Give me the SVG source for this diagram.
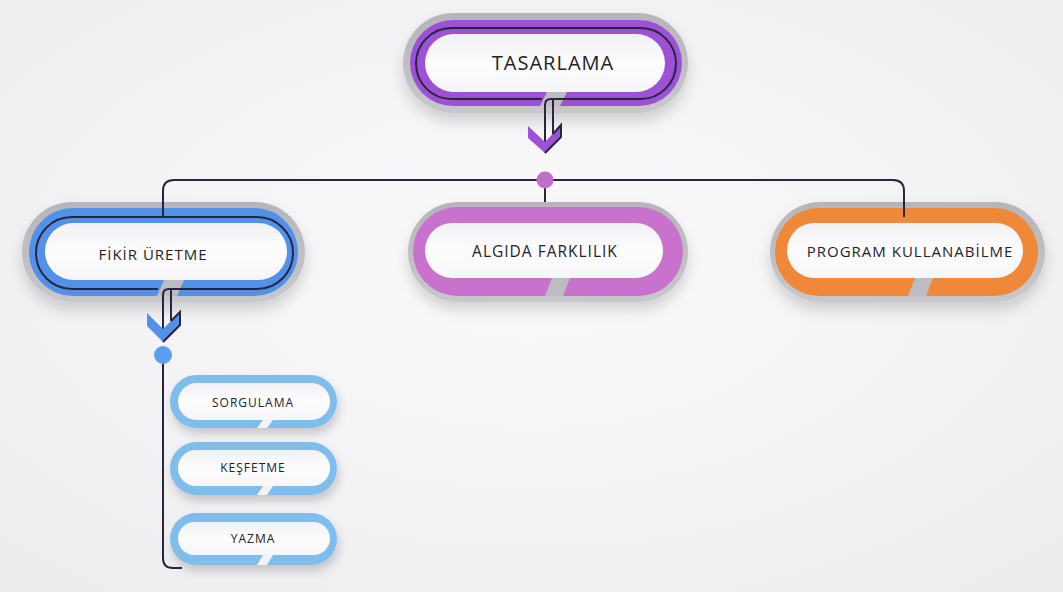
<svg xmlns="http://www.w3.org/2000/svg" width="1063" height="592" viewBox="0 0 1063 592">
  <defs>
    <radialGradient id="bg" cx="0.5" cy="0.45" r="0.75">
      <stop offset="0" stop-color="#fbfbfc"/>
      <stop offset="1" stop-color="#ececef"/>
    </radialGradient>
    <linearGradient id="greyG" x1="0" y1="0" x2="0" y2="1">
      <stop offset="0" stop-color="#b6b6ba"/>
      <stop offset="1" stop-color="#c8c8cc"/>
    </linearGradient>
    <linearGradient id="whiteG" x1="0" y1="0" x2="0" y2="1">
      <stop offset="0" stop-color="#f1f1f4"/>
      <stop offset="0.5" stop-color="#fdfdfe"/>
      <stop offset="1" stop-color="#f6f6f8"/>
    </linearGradient>
    <filter id="sh" x="-20%" y="-30%" width="140%" height="170%">
      <feDropShadow dx="0" dy="8" stdDeviation="7" flood-color="#000" flood-opacity="0.16"/>
    </filter>
    <filter id="shs" x="-20%" y="-30%" width="140%" height="180%">
      <feDropShadow dx="2" dy="6" stdDeviation="5" flood-color="#000" flood-opacity="0.18"/>
    </filter>
  </defs>
  <style>
    .grey{fill:url(#greyG)}
    .white{fill:url(#whiteG)}
    .dark{fill:none;stroke:#2a2440;stroke-width:2}
    .lbl{font-family:"Open Sans","Noto Sans","Liberation Sans",sans-serif;font-weight:500;fill:#232326;text-anchor:middle;letter-spacing:1px}
    .gapg{fill:#bdbdc1}
    .gapb{fill:#f3f3f5}
    .purple{fill:#9d52d5}
    .blue{fill:#5192e8}
    .pink{fill:#c872cd}
    .orange{fill:#f0883a}
    .lblue{fill:#7fbdec}
    .conn{fill:none;stroke:#2a2440;stroke-width:2}
  </style>
  <rect width="1063" height="592" fill="url(#bg)"/>

  <g id="tasarlama">
    <rect class="grey" x="403" y="13" width="285" height="100" rx="50" filter="url(#sh)"/>
    <rect class="purple" x="410" y="20" width="272" height="86" rx="43"/>
    <path class="gapg" d="M547,92 L567,92 L560,106 L540,106 Z"/>
    <rect class="white" x="425" y="34" width="240" height="58" rx="29"/>
    <path class="dark" d="M542,99 H451.5 A35.5,35.5 0 0 1 451.5,28 H640.5 A35.5,35.5 0 0 1 640.5,99 H551 Q545,99 545,105 V142"/>
    <path class="dark" d="M553,99 V134"/>
    <polygon class="purple" points="528,126 545,142 561,125 561,137 545,153 528,138"/>
    <path class="dark" d="M553,134 L561,125 V137 L545,153"/>
    <text class="lbl" x="553" y="70" font-size="20">TASARLAMA</text>
  </g>

  <g id="fikir">
    <rect class="grey" x="22" y="202" width="283" height="100" rx="50" filter="url(#sh)"/>
    <rect class="blue" x="29" y="208" width="269" height="88" rx="44"/>
    <path class="gapg" d="M164,280 L184,280 L177,296 L157,296 Z"/>
    <rect class="white" x="45" y="223" width="242" height="57" rx="28.5"/>
    <path class="dark" d="M158,289 H72 A36,36 0 0 1 72,217 H257 A36,36 0 0 1 257,289 H169 Q163,289 163,295 V329"/>
    <path class="dark" d="M171,289 V321"/>
    <polygon class="blue" points="147,313 163,329 180,312 180,325 163,342 147,326"/>
    <path class="dark" d="M171,321 L180,312 V325 L163,342"/>
    <text class="lbl" x="153" y="260" font-size="15">FİKİR ÜRETME</text>
  </g>

  <g id="algida">
    <rect class="grey" x="408" y="202" width="280" height="100" rx="50" filter="url(#sh)"/>
    <rect class="pink" x="413" y="207" width="270" height="89" rx="44.5"/>
    <path class="gapg" d="M552,278 L570,278 L563,296 L545,296 Z"/>
    <rect class="white" x="425" y="223" width="238" height="55" rx="27.5"/>
    <text class="lbl" x="545" y="257" font-size="15.5">ALGIDA FARKLILIK</text>
  </g>

  <g id="program">
    <rect class="grey" x="770" y="202" width="275" height="100" rx="50" filter="url(#sh)"/>
    <rect class="orange" x="775" y="208" width="263" height="88" rx="44"/>
    <path class="gapg" d="M915,278 L933,278 L926,296 L908,296 Z"/>
    <rect class="white" x="787" y="223" width="236" height="55" rx="27.5"/>
    <text class="lbl" x="910" y="257" font-size="15">PROGRAM KULLANABİLME</text>
  </g>

  <g id="sorgulama">
    <rect class="lblue" x="170" y="375" width="167" height="53" rx="26.5" filter="url(#shs)"/>
    <path class="gapb" d="M263,420 L273,420 L267,428 L257,428 Z"/>
    <rect class="white" x="178" y="383" width="152" height="37" rx="18.5"/>
    <text class="lbl" x="253" y="407" font-size="12">SORGULAMA</text>
  </g>

  <g id="kesfetme">
    <rect class="lblue" x="170" y="442" width="167" height="53" rx="26.5" filter="url(#shs)"/>
    <path class="gapb" d="M263,486 L273,486 L267,495 L257,495 Z"/>
    <rect class="white" x="178" y="450" width="152" height="36" rx="18"/>
    <text class="lbl" x="253" y="472" font-size="12">KEŞFETME</text>
  </g>

  <g id="yazma">
    <rect class="lblue" x="170" y="513" width="167" height="52" rx="26" filter="url(#shs)"/>
    <path class="gapb" d="M263,555 L273,555 L267,565 L257,565 Z"/>
    <rect class="white" x="178" y="522" width="152" height="33" rx="16.5"/>
    <text class="lbl" x="253" y="543" font-size="12">YAZMA</text>
  </g>

  <g id="connectors">
    <path class="conn" d="M163,217 V191 Q163,180 174,180 H893 Q904,180 904,191 V217"/>
    <path class="conn" d="M545,180 V202"/>
    <circle cx="545" cy="180" r="8.5" fill="#c070cc"/>
    <path class="conn" d="M163,355 V558 Q163,568 173,568 H182"/>
    <circle cx="163" cy="355" r="9" fill="#5aa0ee"/>
  </g>
</svg>
